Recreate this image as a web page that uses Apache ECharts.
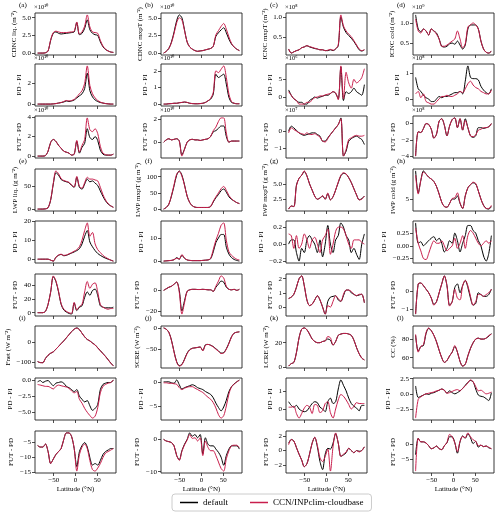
<!DOCTYPE html>
<html><head><meta charset="utf-8">
<script src="https://cdn.jsdelivr.net/npm/echarts@6/dist/echarts.min.js"></script>
<style>html,body{margin:0;padding:0;background:#fff}#c{width:500px;height:515px}</style>
</head><body><div id="c"></div>
<script>
// ---------------- DATA ----------------
const lat = [-87,-81,-75,-69,-63,-57,-51,-45,-39,-33,-27,-21,-15,-9,-3,3,9,15,21,27,33,39,45,51,57,63,69,75,81,87];
const xTicks = [-50, 0, 50];
const seriesNames = ['default', 'CCN/INPclim-cloudbase'];

// (a) CDNC liq. (x1e10)
const aTopDef = [0,0,0,0.05,0.3, 1.8,2.8,3.0,2.8,2.7, 2.75,2.8,2.85,2.9,3.0, 4.3,2.6,2.8,3.5,4.7, 3.3,2.8,2.6,2.5,1.6, 0.9,0.5,0.3,0.15,0.1];
const aTopCcn = [0,0,0,0.05,0.3, 1.9,2.9,3.1,3.0,2.9, 2.9,2.9,2.95,3.0,3.1, 4.4,2.7,3.0,3.8,5.4, 3.7,3.0,2.9,2.8,1.8, 1.0,0.55,0.3,0.15,0.1];
const aPdDef = [0,0,0,0,0, 0,0.02,0.05,0.1,0.15, 0.2,0.3,0.25,0.3,0.4, 0.6,0.8,1.0,1.5,3.0, 1.3,0.7,0.4,0.25,0.15, 0.1,0.05,0.02,0,0];
const aPdCcn = [0,0,0,0,0, 0,0.02,0.05,0.1,0.15, 0.25,0.35,0.3,0.35,0.45, 0.7,1.0,1.3,2.0,3.7, 1.8,1.0,0.6,0.35,0.2, 0.1,0.05,0.02,0,0];
const aFutDef = [0,0,0,0.05,0.5, 1.4,1.7,1.5,1.1,0.8, 0.5,0.4,0.3,0.1,0.2, 1.5,0.3,0.9,1.3,2.8, 1.9,1.7,2.0,1.6,0.6, 0.2,0.1,0.1,0.1,0.2];
const aFutCcn = [0,0,0,0.05,0.5, 1.4,1.7,1.5,1.1,0.8, 0.5,0.4,0.3,0.1,0.2, 1.6,0.4,1.1,1.7,3.9, 2.7,2.5,2.8,2.3,1.0, 0.3,0.15,0.1,0.1,0.2];
// (b) CDNC mxpT (x1e10)
const bTopDef = [0.05,0.3,0.7,1.6,3.0, 4.6,5.4,5.0,3.3,1.6, 0.9,0.6,0.4,0.3,0.35, 0.4,0.5,0.6,0.7,1.0, 2.4,2.9,3.3,3.6,2.9, 2.0,1.3,0.9,0.6,0.4];
const bTopCcn = [0.05,0.3,0.7,1.5,2.8, 4.3,5.0,4.7,3.2,1.6, 0.9,0.6,0.4,0.3,0.35, 0.4,0.5,0.6,0.7,1.0, 2.6,3.2,3.8,4.2,3.4, 2.3,1.4,0.9,0.6,0.4];
const bPdDef = [0,0,0.02,0.03,0.05, 0.05,0.08,0.1,0.12,0.1, 0.05,0.03,0.02,0.02,0.03, 0.05,0.1,0.2,0.3,0.6, 1.8,1.6,1.7,1.8,1.2, 0.4,0.1,0.05,0.02,0.02];
const bPdCcn = [0,0,0.02,0.03,0.05, 0.05,0.08,0.1,0.13,0.1, 0.05,0.03,0.02,0.02,0.03, 0.05,0.1,0.2,0.35,0.7, 2.0,1.9,2.1,2.3,1.6, 0.6,0.15,0.05,0.02,0.02];
const bFutDef = [0,0.2,0.3,0.2,0.25, 0.3,0.1,-1.1,-0.6,0, 0.2,0.25,0.2,0.2,0.15, 0.2,0.25,0.3,0.5,0.9, 1.0,1.2,1.4,1.4,0.5, 0,0.1,0.1,0.1,0.1];
const bFutCcn = [0,0.2,0.3,0.2,0.25, 0.3,0.1,-1.2,-0.6,0, 0.2,0.25,0.2,0.2,0.15, 0.2,0.25,0.3,0.5,1.0, 1.3,1.8,2.1,2.1,0.8, 0,0.1,0.1,0.1,0.1];
// (c) ICNC mxpT (x1e8, x1e6, x1e7)
const cTopDef = [0.22,0.12,0.15,0.18,0.2, 0.25,0.27,0.3,0.27,0.25, 0.23,0.22,0.2,0.2,0.18, 0.18,0.2,0.18,0.22,0.3, 1.0,0.75,0.62,0.55,0.48, 0.4,0.3,0.2,0.17,0.2];
const cTopCcn = [0.22,0.12,0.15,0.18,0.2, 0.25,0.27,0.3,0.28,0.26, 0.24,0.22,0.2,0.2,0.18, 0.19,0.21,0.19,0.23,0.32, 1.05,0.78,0.66,0.58,0.52, 0.42,0.32,0.22,0.18,0.2];
const cPdDef = [2,0.5,-0.5,-1,-1.5, -1.5,-2,-2,-1,-0.5, 0,-0.3,0,0.2,0.5, 0.5,1,1.5,1,-0.5, 8.5,-1,1.5,1,1.5, 2.5,1.5,1,0.5,3.5];
const cPdCcn = [1.5,0.5,-0.5,-1,-2, -2,-2,-1.5,-1.5,-0.8, -0.2,0,0.3,0.3,0.6, 0.8,1,1.5,1.2,-0.8, 8.8,-0.5,7,4,2.5, 5,4,4.5,5.5,8];
const cFutDef = [0,0.3,0.2,0.05,-0.1, -0.2,-0.25,-0.2,-0.15,-0.1, -0.1,-0.2,-0.3,-0.6,-0.6, -0.4,-0.2,0,0.2,0.4, 0.8,-1.5,-1.2,-0.6,-0.45, -0.35,-0.3,-0.4,-0.5,-0.8];
const cFutCcn = [-0.1,0.2,0.1,0,-0.1, -0.15,-0.2,-0.1,-0.2,-0.2, -0.15,-0.25,-0.35,-0.6,-0.65, -0.45,-0.2,0,0.2,0.4, 0.75,-1.5,-1.1,-0.5,-0.4, -0.3,-0.25,-0.3,-0.3,-0.25];
// (d) ICNC cold (x1e9, x1e8, x1e8)
const dTopDef = [1.2,0.85,0.78,0.85,0.8, 0.7,0.85,0.8,0.75,0.6, 0.42,0.4,0.42,0.48,0.5, 0.47,0.55,0.45,0.35,0.45, 0.85,0.95,0.95,0.95,0.85, 0.55,0.35,0.27,0.25,0.3];
const dTopCcn = [1.1,0.8,0.75,0.85,0.8, 0.7,0.85,0.8,0.72,0.6, 0.42,0.42,0.45,0.5,0.55, 0.6,0.8,0.6,0.38,0.48, 0.9,0.95,1.0,0.95,0.85, 0.55,0.35,0.27,0.25,0.3];
const dPdDef = [0.85,0.4,0.3,0.15,0.05, 0,-0.1,-0.1,0,0.1, 0.05,0.1,0.1,0.15,0.2, 0.25,0.25,0.3,0.2,0.7, 1.3,0.85,0.8,0.8,0.75, 0.5,0.35,0.25,0.2,0.4];
const dPdCcn = [0.2,0.3,0.05,0.2,-0.1, -0.15,-0.2,-0.2,-0.1,0, 0.1,0.1,0.15,0.1,0.1, 0.15,0.2,0.3,0.25,0.4, 0.6,0.7,0.55,0.45,0.4, 0.3,0.25,0.2,0.2,0.35];
const dFutDef = [-4.0,-1.0,-1.1,-0.6,0, -0.1,-0.7,-1.8,-1.3,0.3, 0.6,-0.2,-1.5,-0.3,0.5, 0.7,-0.5,0.6,-0.8,0.6, -0.5,-1.5,-1.7,-1.5,-0.5, -0.5,-0.6,-0.5,-0.4,0];
const dFutCcn = [-4.0,-1.0,-1.1,-0.6,0, -0.1,-0.7,-1.8,-1.3,0.3, 0.6,-0.2,-1.5,-0.3,0.5, 0.7,-0.5,0.6,-0.8,0.4, -0.5,-1.5,-1.6,-1.4,-0.8, -0.7,-0.5,-0.5,-0.4,0];
// (e) LWP liq.
const eTopDef = [0,0,0,0.5,3, 20,55,80,75,65, 62,60,58,52,48, 70,48,44,55,66, 60,62,57,52,40, 28,18,11,7,4];
const eTopCcn = [0,0,0,0.5,3, 21,57,84,78,67, 63,61,59,53,49, 72,50,46,58,70, 66,66,64,62,48, 32,20,12,7,4];
const ePdDef = [0,0,0,0,0, -0.5,-1,1,2,2.5, 1.8,2,2.6,3.2,3.8, 4.5,5.5,8,12,15, 9,6.5,4.5,3,2, 1.2,0.5,0,-0.5,-1];
const ePdCcn = [0,0,0,0,0, -0.5,-1,1,2.2,2.6, 2,2.2,2.8,3.4,4.2, 5,6.5,10,15,19, 12,14,8,5,3.5, 2,1,0.2,-0.5,-1];
const eFutDef = [0,0,0,2,12, 30,52,45,30,12, 4,1,-1,-2,14, 3,8,10,22,30, 25,32,34,25,10, 8,7,7,7,8];
const eFutCcn = [0,0,0,2,12, 30,53,46,31,13, 5,2,0,-1,15, 4,9,12,30,45, 35,41,43,30,12, 8,6,5,6,6];
// (f) LWP mxpT
const fTopDef = [0,5,15,40,72, 105,118,105,75,40, 20,10,6,5,5, 5,5,5,8,22, 35,45,57,62,52, 38,30,25,20,17];
const fTopCcn = [0,5,15,42,75, 108,116,102,73,40, 20,10,6,5,5, 5,5,5,8,24, 38,50,63,70,58, 42,32,25,20,17];
const fPdDef = [0,0.1,0.2,0.3,0.6, 1.5,0.8,2.5,1.2,0.5, 0.3,0.2,0.2,0.2,0.2, 0.3,0.4,0.5,1,4, 8,10,11.5,11.5,6, 3,1.5,0.7,0.3,0];
const fPdCcn = [0,0.1,0.2,0.3,0.6, 1.2,0.9,2.8,1.3,0.5, 0.3,0.2,0.2,0.2,0.2, 0.3,0.4,0.5,1.2,5, 9,12,15.5,16.5,9, 4,2.5,1.5,0.8,0.5];
const fFutDef = [0,1.5,3,4,6, 8,0,-20,-10,-1, 0.5,1,1,0.8,0.8, 1,0.8,0.5,0.5,-1, 3,6,9,8,3, 1,0.5,1,0,1];
const fFutCcn = [0,1.5,3,4,6, 8,-2,-23,-12,-1, 0.5,1,1,0.8,0.8, 1,0.8,0.5,0.5,-1, 4,9,14,12,4, 1,0.5,1,0,1];
// (g) IWP mxpT
const gTopDef = [0.9,1.4,1.3,4.8,5.9, 6.4,7.0,6.3,5.0,4.0, 3.0,2.5,2.7,3.0,2.5, 3.4,2.4,2.9,4.0,5.2, 6.3,6.7,6.6,6.0,5.2, 4.2,3.2,2.4,2.6,3.0];
const gTopCcn = [0.9,1.4,1.3,4.7,5.9, 6.4,7.1,6.3,5.0,4.0, 3.0,2.5,2.7,3.1,2.5, 3.5,2.4,2.9,4.0,5.3, 6.4,6.8,6.6,6.0,5.2, 4.2,3.2,2.4,2.5,3.0];
const gPdDef = [0,0.05,0.05,-0.1,-0.2, -0.05,-0.1,0.05,0.1,0.05, 0,-0.1,0.05,-0.15,0, 0.22,0,-0.1,0.05,0.1, 0.25,0.2,0.1,0.05,-0.1, -0.05,-0.12,-0.18,0,0.12];
const gPdCcn = [0.12,0.1,-0.05,0.1,-0.05, 0,0.12,0.05,-0.05,0.05, 0.08,0,-0.1,0.05,0.1, 0.18,-0.12,0,0.15,0.2, 0.2,0.18,0.1,0,-0.05, 0.05,0.05,0.05,0.02,0];
const gFutDef = [0.6,0.7,0.9,1.4,2.0, 2.2,1.5,0.5,0.1,0.2, 0.5,0.8,0.5,0,-0.5, 0.4,0.7,0.75,0.8,0.5, 0.4,0.8,1.2,1.2,1.0, 0.9,0.8,0.85,0.9,0.3];
const gFutCcn = [0.6,0.7,0.9,1.4,2.0, 2.2,1.5,0.5,0.1,0.2, 0.5,0.8,0.5,0,-0.5, 0.1,0,0.4,0.8,0.6, 0.4,0.9,1.2,1.2,1.1, 0.9,0.8,0.9,0.9,0.3];
// (h) IWP cold
const hTopDef = [9.5,6,8,9.5,9, 8.5,8.2,7.8,7,5.8, 4.5,3.8,3.7,4.3,5, 5,5.5,4.3,3.5,5.5, 6.8,7.3,7.6,7.4,6.3, 5,4,3.5,3.4,3.8];
const hTopCcn = [8.8,5.8,8,9.3,9, 8.5,8.2,7.8,7,5.8, 4.5,3.8,3.7,4.3,5.1, 5.2,6,4.4,3.5,5.5, 6.8,7.3,7.7,7.5,6.3, 5,4,3.5,3.5,4];
const hPdDef = [0.45,0.05,0.08,0,0.05, 0.1,0.15,0.18,0.1,0.15, 0.05,-0.12,-0.05,0.1,0.05, 0.25,0.1,-0.12,0.05,0.2, 0.4,0.4,0.3,0.25,0.1, 0,-0.2,-0.3,-0.15,0.2];
const hPdCcn = [0.35,0.05,-0.1,-0.25,-0.27, -0.15,0,0.1,0.05,0.05, 0.1,0,-0.1,-0.05,0, 0.15,-0.05,0.05,0.2,-0.05, 0.2,0.3,0.25,0.15,0.05, 0,0.05,0.1,0.05,0.1];
const hFutDef = [-1.3,0.4,0.45,0.3,0.1, -0.1,-0.4,-0.75,-0.6,-0.1, 0.4,0.85,0.3,-0.8,-0.6, 0.2,0.4,-0.1,0.3,0.6, 0.2,-0.4,-0.8,-0.7,-0.1, -0.2,-0.3,-0.3,-0.2,0.1];
const hFutCcn = [-1.3,0.4,0.45,0.3,0.1, -0.1,-0.4,-0.8,-0.6,-0.1, 0.4,0.85,0.3,-0.85,-0.6, 0.1,-0.4,-0.5,0.3,0.6, 0.3,-0.3,-0.8,-0.6,-0.2, -0.2,-0.3,-0.2,-0.1,0.1];
// (i) Fnet
const iTopDef = [-95,-100,-100,-80,-65, -55,-48,-35,-22,-8, 5,20,35,50,62, 68,60,42,25,12, 5,-5,-14,-28,-42, -56,-70,-86,-102,-115];
const iTopCcn = [-95,-100,-101,-80,-64, -54,-48,-35,-22,-8, 5,20,35,50,62, 67,59,42,25,12, 5,-6,-15,-29,-43, -57,-71,-87,-103,-117];
const iPdDef = [-0.3,-0.1,-0.4,-0.2,-0.1, -0.5,-0.9,-0.5,-0.4,-0.3, -0.5,-1,-1.2,-1.5,-1.8, -1.5,-2.5,-3,-3.4,-3.2, -4,-4.7,-4.4,-3.8,-1.5, -0.7,-0.5,-0.4,-0.4,0];
const iPdCcn = [-0.7,-0.8,-0.9,-1,-1, -1.2,-1.4,-1,-0.8,-0.9, -1,-1.1,-1.3,-1.7,-2, -1.8,-3,-3.6,-4.4,-5, -5.5,-5.9,-5.6,-4.3,-2, -1,-0.7,-0.5,-0.4,0];
const iFutDef = [-6,-6.5,-6.5,-5.5,-8, -12,-10.5,-9,-8,-7, -4,-1.8,-1.8,-3,-7, -13,-8,-6,-5,-6.5, -10,-12.5,-12,-12.5,-11, -9,-8,-7.5,-7,-7];
const iFutCcn = [-6,-6.5,-6.5,-5.5,-8, -12,-10.5,-9,-8,-7, -4,-1.8,-1.8,-3,-7, -14.5,-9,-6.5,-5.5,-7, -11,-14,-14.5,-13.5,-12, -10,-8.5,-8,-7.5,-7];
// (j) SCRE
const jTopDef = [0,-3,-10,-28,-55, -78,-87,-84,-72,-58, -50,-47,-46,-45,-44, -52,-39,-38,-40,-43, -48,-53,-58,-57,-48, -35,-20,-12,-10,-9];
const jTopCcn = [0,-3,-10,-29,-56, -79,-88,-85,-73,-59, -51,-47,-46,-45,-44, -53,-40,-38,-40,-44, -49,-54,-59,-58,-49, -36,-21,-12,-10,-9];
const jPdDef = [0,0,0,-0.2,-0.3, 0.4,-0.6,-1.5,-1.2,-1, -0.8,-0.6,-0.8,-1.2,-1.4, -1.6,-2,-2.3,-2.6,-3.3, -4.4,-5.3,-6,-5.2,-3.8, -2,-1,-0.4,0,0.4];
const jPdCcn = [-0.2,-0.2,-0.3,-0.3,-0.4, -0.5,-1.2,-1.6,-1.3,-1.1, -1,-1,-1.3,-1.6,-1.9, -2.2,-2.7,-3.2,-3.6,-4.3, -5.4,-6.8,-7.5,-7,-5, -2.5,-1,-0.5,0,0.3];
const jFutDef = [0,-0.5,-0.7,-1,-2, -5,-6.3,-3.5,-1.5,0, 2,1,1.5,0.5,1.5, -4.5,0.5,-1.5,-2,-2, -3,-4,-5.5,-8,-5, -3,-2,-2,-2,-3];
const jFutCcn = [0,-0.5,-0.7,-1,-2, -5,-6.5,-3.7,-1.7,-0.2, 1.5,0.3,0.5,-0.5,0.5, -5,-0.5,-2.5,-3.5,-3.5, -5,-7,-9,-9.8,-6, -3.5,-2,-1.8,-1.8,-2.5];
// (k) LCRE
const kTopDef = [1,3,4,12,24, 31,32,30.5,27,23, 21,20,20,21,21.5, 23,22,18,21,26, 27,27.5,27.5,27,26, 22,16,11,7.5,6];
const kTopCcn = [1,3,4,12,24, 31,32,30.5,27,23, 21,20,20,21,21.5, 25,24,18,21,26, 27,27.5,27.5,27,26, 22,16,11,7.5,6];
const kPdDef = [0.4,0.2,0.1,0.2,0, -0.1,-0.15,-0.1,0.1,0.3, 0.4,0.35,0.1,0,-0.15, 0.4,0.6,0.3,0.4,1.1, 1.6,1.3,1.0,0.6,0.3, 0.15,0.05,-0.1,0.2,0.2];
const kPdCcn = [0.1,0.1,0.15,-0.25,-0.5, -0.25,0.05,0.2,0.1,-0.25, 0.25,0.2,-0.2,-0.1,0.3, 0.4,-0.2,-0.5,0,0.5, 0.8,0.7,0.5,0.25,0, 0.15,0.35,0.3,0.3,0.3];
const kFutDef = [1,1.5,1.3,0.4,-0.5, -1.3,-2.2,-1.8,-0.5,1.0, 1.8,0.5,-1.5,-2.6,-0.5, 0.3,0.2,1.0,2.3,1.0, -0.8,-0.6,-0.3,0.3,0, -0.3,0,-0.1,0,0.5];
const kFutCcn = [0.8,1.5,1.3,0.4,-0.5, -1.3,-2.2,-1.8,-0.5,1.0, 1.8,0.7,-1.0,-1.5,-0.8, 0.2,-2.8,0.5,2.4,1.0, -0.8,-0.5,-0.2,0.3,0, -0.3,0,-0.2,0,0.5];
// (l) CC
const lTopDef = [84,67,72,73,86, 91.5,89,84,77,68, 60,55,57,62,66, 72,66,56,51,53, 62,70,76,80,81, 80,80,81,83,86];
const lTopCcn = [85,66,72,74,87, 92,89,84,77,68, 60,55,57,62,66, 73,66,56,51,53, 62,70,76,80,81, 80,80,81,84,85];
const lPdDef = [1.3,-0.6,-0.4,-0.2,0, -0.1,0.1,0.2,0.4,0.6, 0.8,0.6,0.1,0.5,0.2, 0,0.2,0.5,0.9,1.4, 1.9,2.2,2.0,0.8,-0.2, -0.4,-0.5,-0.8,-1.1,0.2];
const lPdCcn = [-4,-0.9,-0.5,-0.2,0, 0.1,0.2,0.3,0.5,0.6, 0.8,0.6,0.1,0.2,0.4, 0.6,0.7,0.5,0.9,1.3, 1.8,2.3,2.0,1.2,0.5, 0.6,0.3,0,0.1,0.3];
const lFutDef = [-3.5,2,0.8,0.8,0.4, -0.5,-1.5,-1.2,-0.6,-1.5, -1.8,-0.5,0.5,2.5,2.5, 0.5,-3,0.8,2.8,2, 3.5,2.2,0.2,1,-1, -0.3,-0.8,-0.6,-1.2,-1.5];
const lFutCcn = [-9,2,0.8,0.8,0.4, -0.5,-1.5,-1.2,-0.6,-1.5, -1.8,-0.5,0.6,3.3,2.5, 0.5,-2.5,1,2.6,2.2, 3.8,2.5,1.5,1,-0.5, -0.3,-0.8,-0.6,-1,-1.5];

// tick values per panel (top, PD-PI, FUT-PD)
const aTicks = [[0,2.5,5],[0,2,4],[0,2,4]];
const bTicks = [[0,2.5,5],[0,1,2],[0,2]];
const cTicks = [[0.5,1.0],[0,5],[-1,0]];
const dTicks = [[0.5,1.0,1.5],[0,1],[-4,-2,0]];
const eTicks = [[0,50],[0,10,20],[0,20,40]];
const fTicks = [[0,50,100],[0,10],[-20,0]];
const gTicks = [[2.5,5.0],[-0.2,0,0.2],[0,1,2]];
const hTicks = [[5,10],[-0.25,0,0.25],[-1,0]];
const iTicks = [[-100,0],[-5,-2.5,0],[-15,-10,-5]];
const jTicks = [[-50,0],[-5,0],[-10,0]];
const kTicks = [[0,20],[0,1],[-2,0,2]];
const lTicks = [[60,80],[-2.5,0,2.5],[-5,0]];

// ---------------- LAYOUT / STYLE ----------------
const FONT = 'Liberation Serif';
const BLACK = '#000000', RED = '#c81e4c';
const colLeft = [35, 161, 286, 413];
const rowTop = [13, 64, 116, 169, 221, 274, 326, 378, 431];
const W = 81, H = 42;

const panels = [
  {tag:'(a)', name:'CDNC liq. (m⁻²)', ticks:aTicks, dec:[1,0,0], exp:['×10¹⁰','×10¹⁰','×10¹⁰'], d:[[aTopDef,aTopCcn],[aPdDef,aPdCcn],[aFutDef,aFutCcn]]},
  {tag:'(b)', name:'CDNC mxpT (m⁻²)', ticks:bTicks, dec:[1,0,0], exp:['×10¹⁰','×10¹⁰','×10¹⁰'], d:[[bTopDef,bTopCcn],[bPdDef,bPdCcn],[bFutDef,bFutCcn]]},
  {tag:'(c)', name:'ICNC mxpT (m⁻²)', ticks:cTicks, dec:[1,0,0], exp:['×10⁸','×10⁶','×10⁷'], d:[[cTopDef,cTopCcn],[cPdDef,cPdCcn],[cFutDef,cFutCcn]]},
  {tag:'(d)', name:'ICNC cold (m⁻²)', ticks:dTicks, dec:[1,0,0], exp:['×10⁹','×10⁸','×10⁸'], d:[[dTopDef,dTopCcn],[dPdDef,dPdCcn],[dFutDef,dFutCcn]]},
  {tag:'(e)', name:'LWP liq. (g m⁻²)', ticks:eTicks, dec:[0,0,0], exp:null, d:[[eTopDef,eTopCcn],[ePdDef,ePdCcn],[eFutDef,eFutCcn]]},
  {tag:'(f)', name:'LWP mxpT (g m⁻²)', ticks:fTicks, dec:[0,0,0], exp:null, d:[[fTopDef,fTopCcn],[fPdDef,fPdCcn],[fFutDef,fFutCcn]]},
  {tag:'(g)', name:'IWP mxpT (g m⁻²)', ticks:gTicks, dec:[1,1,0], exp:null, d:[[gTopDef,gTopCcn],[gPdDef,gPdCcn],[gFutDef,gFutCcn]]},
  {tag:'(h)', name:'IWP cold (g m⁻²)', ticks:hTicks, dec:[0,2,0], exp:null, d:[[hTopDef,hTopCcn],[hPdDef,hPdCcn],[hFutDef,hFutCcn]]},
  {tag:'(i)', name:'Fnet (W m⁻²)', ticks:iTicks, dec:[0,1,0], exp:null, d:[[iTopDef,iTopCcn],[iPdDef,iPdCcn],[iFutDef,iFutCcn]]},
  {tag:'(j)', name:'SCRE (W m⁻²)', ticks:jTicks, dec:[0,0,0], exp:null, d:[[jTopDef,jTopCcn],[jPdDef,jPdCcn],[jFutDef,jFutCcn]]},
  {tag:'(k)', name:'LCRE (W m⁻²)', ticks:kTicks, dec:[0,0,0], exp:null, d:[[kTopDef,kTopCcn],[kPdDef,kPdCcn],[kFutDef,kFutCcn]]},
  {tag:'(l)', name:'CC (%)', ticks:lTicks, dec:[0,1,0], exp:null, d:[[lTopDef,lTopCcn],[lPdDef,lPdCcn],[lFutDef,lFutCcn]]}
];
const rowNames = [null, 'PD - PI', 'FUT - PD'];

const mctx = document.createElement('canvas').getContext('2d');
function tw(s, size) { mctx.font = size + 'px "' + FONT + '"'; return mctx.measureText(s).width; }
function fmt(dec) { return v => (v < 0 ? '−' : '') + Math.abs(v).toFixed(dec); }

const grid = [], xAxis = [], yAxis = [], series = [], graphic = [];
const FS = 7;
panels.forEach((p, pi) => {
  const col = pi % 4, block = Math.floor(pi / 4);
  for (let r = 0; r < 3; r++) {
    const row = block * 3 + r;
    const gi = grid.length;
    const left = colLeft[col], top = rowTop[row];
    const bottomRow = row === 8;
    grid.push({left: left, top: top, width: W, height: H, show: true, borderColor: '#222', borderWidth: 0.9,
      backgroundColor: 'rgba(0,0,0,0)', containLabel: false, outerBoundsMode: 'none'});
    xAxis.push({gridIndex: gi, type: 'value', min: -93, max: 93, position: 'bottom',
      axisLine: {show: false, onZero: false}, splitLine: {show: false},
      axisTick: {show: true, length: 3, customValues: xTicks, lineStyle: {color: '#222', width: 0.8}},
      axisLabel: {show: bottomRow, customValues: xTicks, formatter: fmt(0), fontSize: FS, fontFamily: FONT, color: '#000', margin: 4},
      name: bottomRow ? 'Latitude (°N)' : '', nameLocation: 'middle', nameGap: 13,
      nameTextStyle: {fontSize: FS, fontFamily: FONT, color: '#000'}});
    const [s1, s2] = p.d[r];
    const all = s1.concat(s2);
    const lo = Math.min(...all), hi = Math.max(...all), pad = (hi - lo) * 0.05;
    const ticks = p.ticks[r];
    const f = fmt(p.dec[r]);
    const lw = Math.max(...ticks.map(t => tw(f(t), FS)));
    yAxis.push({gridIndex: gi, type: 'value', min: lo - pad, max: hi + pad, position: 'left',
      axisLine: {show: false, onZero: false}, splitLine: {show: false},
      axisTick: {show: true, length: 3, customValues: ticks, lineStyle: {color: '#222', width: 0.8}},
      axisLabel: {customValues: ticks, formatter: f, fontSize: FS, fontFamily: FONT, color: '#000', margin: 4},
      name: r === 0 ? p.name : rowNames[r], nameLocation: 'middle', nameRotate: 90, nameGap: 4 + lw + 5,
      nameTextStyle: {fontSize: FS, fontFamily: FONT, color: '#000'}});
    [[s1, seriesNames[0], BLACK], [s2, seriesNames[1], RED]].forEach(([arr, nm, colr]) => {
      series.push({type: 'line', name: nm, xAxisIndex: gi, yAxisIndex: gi,
        data: lat.map((x, i) => [x, arr[i]]), showSymbol: false, symbol: 'none', smooth: 0.3,
        lineStyle: {width: 1, color: colr}, itemStyle: {color: colr}, silent: true, z: nm === seriesNames[1] ? 3 : 2});
    });
    if (p.exp) {
      graphic.push({type: 'text', left: left - 1, top: top - 9, silent: true,
        style: {text: p.exp[r], fontSize: 6.5, fontFamily: FONT, fill: '#000'}});
    }
    if (r === 0) {
      graphic.push({type: 'text', left: left - 16, top: top - 11, silent: true,
        style: {text: p.tag, fontSize: FS, fontFamily: FONT, fill: '#000'}});
    }
  }
});

const chart = echarts.init(document.getElementById('c'), null, {renderer: 'canvas', width: 500, height: 515});
chart.setOption({
  animation: false,
  backgroundColor: '#fff',
  grid, xAxis, yAxis, series, graphic,
  legend: {data: seriesNames, left: 172, top: 494, orient: 'horizontal', icon: 'rect',
    itemWidth: 18, itemHeight: 1.5, itemGap: 22, borderColor: '#cccccc', borderWidth: 1, borderRadius: 3,
    padding: [4, 8], textStyle: {fontFamily: FONT, fontSize: 9, color: '#000'}}
});
</script>
</body></html>
